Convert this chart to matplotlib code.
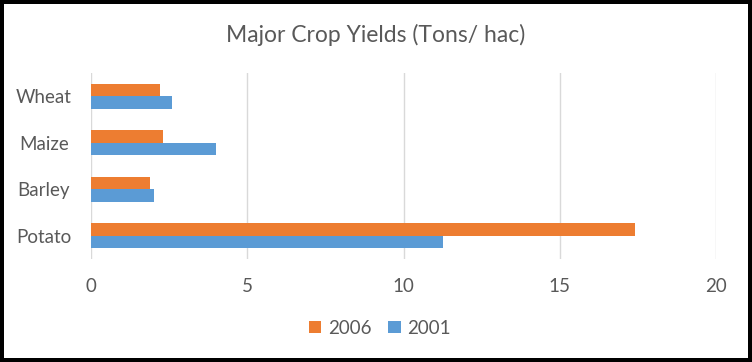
import matplotlib.pyplot as plt
import numpy as np

plt.rcParams['font.family'] = ['Lato', 'DejaVu Sans']

# data
crops = ["Wheat", "Maize", "Barley", "Potato"]
yield_2006 = [2.2, 2.3, 1.9, 17.4]
yield_2001 = [2.6, 4.0, 2.0, 11.25]
x_ticks = [0, 5, 10, 15, 20]

ORANGE = "#ED7D31"
BLUE = "#5B9BD5"
GREY_TXT = "#595959"
GRID = "#D9D9D9"

fig = plt.figure(figsize=(7.52, 3.62), dpi=100, edgecolor="black", linewidth=4.5)
ax = fig.add_axes([91 / 752, 1 - 259 / 362, 625 / 752, 186 / 362])

pos = np.arange(len(crops))
bh = 0.27
ax.barh(pos - bh / 2, yield_2006, height=bh, color=ORANGE, label="2006", zorder=3)
ax.barh(pos + bh / 2, yield_2001, height=bh, color=BLUE, label="2001", zorder=3)

ax.set_xlim(0, 20)
ax.set_ylim(3.5, -0.5)
ax.set_xticks(x_ticks)
ax.set_yticks(pos)
ax.set_yticklabels(crops)
for lbl in ax.get_yticklabels():
    lbl.set_ha("center")

ax.tick_params(axis="both", length=0, labelsize=13.5, labelcolor=GREY_TXT)
ax.tick_params(axis="y", pad=34)
ax.tick_params(axis="x", pad=14)
ax.grid(axis="x", color=GRID, linewidth=1, zorder=0)
for s in ["top", "right", "bottom", "left"]:
    ax.spines[s].set_visible(False)

fig.text(0.5, 1 - 35 / 362, "Major Crop Yields (Tons/ hac)", ha="center", va="center",
         fontsize=16.5, color=GREY_TXT)

ax.legend(loc="center", bbox_to_anchor=(380 / 752, 1 - 328 / 362), bbox_transform=fig.transFigure,
          ncol=2, frameon=False, fontsize=13.5, handlelength=0.65, handleheight=0.65,
          handletextpad=0.35, columnspacing=0.9, labelcolor=GREY_TXT)

fig.savefig("out.png", dpi=100, edgecolor=fig.get_edgecolor())
